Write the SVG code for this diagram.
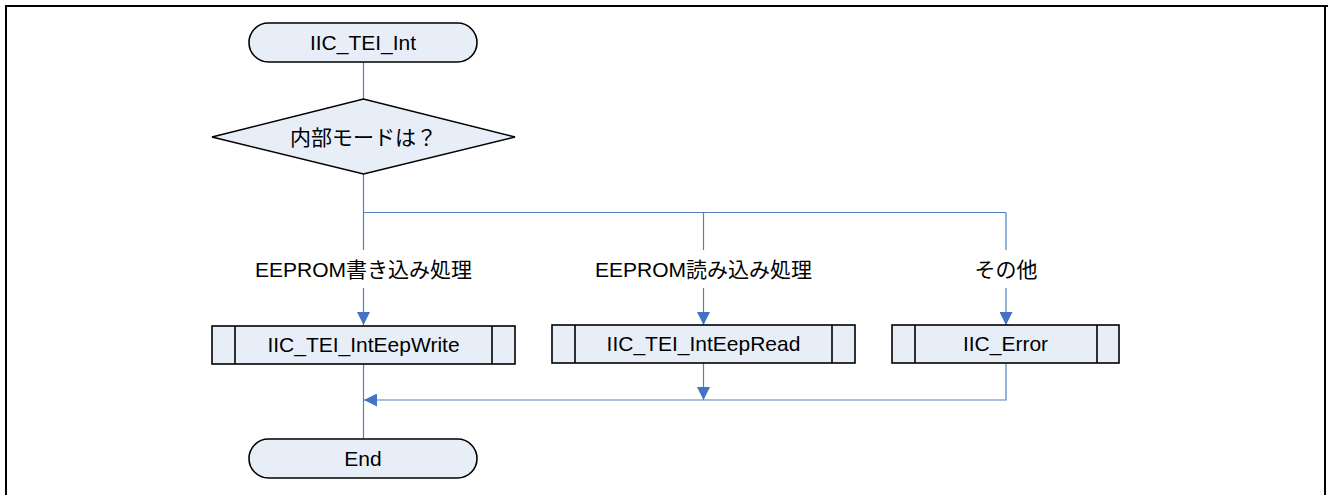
<svg xmlns="http://www.w3.org/2000/svg" width="1328" height="495" viewBox="0 0 1328 495">
<defs>
<style>
.frame{fill:none;stroke:#000;stroke-width:2}
.shape{fill:#E8EEF8;stroke:#000;stroke-width:1.6}
.inner{fill:none;stroke:#000;stroke-width:1.6}
.conn{fill:none;stroke:#4F81BD;stroke-width:1.2}
.t{font-family:"Liberation Sans","Noto Sans CJK JP",sans-serif;font-size:21px;fill:#000;text-anchor:middle}
</style>
<marker id="ah" viewBox="0 0 13 13" markerWidth="13" markerHeight="13" refX="13" refY="6.5" orient="auto" markerUnits="userSpaceOnUse">
<path d="M0,0 L13,6.5 L0,13 Z" fill="#4472C4"/>
</marker>
</defs>
<rect width="1328" height="495" fill="#fff"/>
<path class="frame" d="M6,495 V6 H1328 M1325,6 V495"/>

<g id="connectors">
<line class="conn" x1="363.5" y1="62" x2="363.5" y2="99"/>
<line class="conn" x1="363.5" y1="174" x2="363.5" y2="250"/>
<line class="conn" x1="363.5" y1="212.5" x2="1006" y2="212.5"/>
<line class="conn" x1="703.5" y1="212.5" x2="703.5" y2="250"/>
<line class="conn" x1="1006" y1="212.5" x2="1006" y2="250"/>
<line class="conn" x1="363.5" y1="288" x2="363.5" y2="325" marker-end="url(#ah)"/>
<line class="conn" x1="703.5" y1="288" x2="703.5" y2="325" marker-end="url(#ah)"/>
<line class="conn" x1="1006" y1="288" x2="1006" y2="325" marker-end="url(#ah)"/>
<line class="conn" x1="363.5" y1="364" x2="363.5" y2="439"/>
<line class="conn" x1="703.5" y1="363" x2="703.5" y2="400" marker-end="url(#ah)"/>
<polyline class="conn" points="1006,363 1006,400 364,400" marker-end="url(#ah)"/>
<text class="t" x="363.5" y="277">EEPROM書き込み処理</text>
<text class="t" x="703.5" y="277">EEPROM読み込み処理</text>
<text class="t" x="1006" y="277">その他</text>
</g>

<g id="start">
<rect class="shape" x="249" y="23" width="228" height="39" rx="19.5"/>
<text class="t" x="363" y="50">IIC_TEI_Int</text>
</g>

<g id="decision">
<polygon class="shape" points="212,137 363.5,99 515,137 363.5,174"/>
<text class="t" x="363.5" y="145">内部モードは？</text>
</g>

<g id="write">
<rect class="shape" x="212" y="326" width="303" height="38"/>
<line class="inner" x1="235" y1="326" x2="235" y2="364"/>
<line class="inner" x1="492" y1="326" x2="492" y2="364"/>
<text class="t" x="363.5" y="352">IIC_TEI_IntEepWrite</text>
</g>

<g id="read">
<rect class="shape" x="552" y="325" width="303" height="38"/>
<line class="inner" x1="575" y1="325" x2="575" y2="363"/>
<line class="inner" x1="832" y1="325" x2="832" y2="363"/>
<text class="t" x="703.5" y="351">IIC_TEI_IntEepRead</text>
</g>

<g id="error">
<rect class="shape" x="892" y="325" width="227" height="38"/>
<line class="inner" x1="915" y1="325" x2="915" y2="363"/>
<line class="inner" x1="1097" y1="325" x2="1097" y2="363"/>
<text class="t" x="1005.5" y="351">IIC_Error</text>
</g>

<g id="end">
<rect class="shape" x="249" y="439" width="228" height="39" rx="19.5"/>
<text class="t" x="363" y="466">End</text>
</g>
</svg>
